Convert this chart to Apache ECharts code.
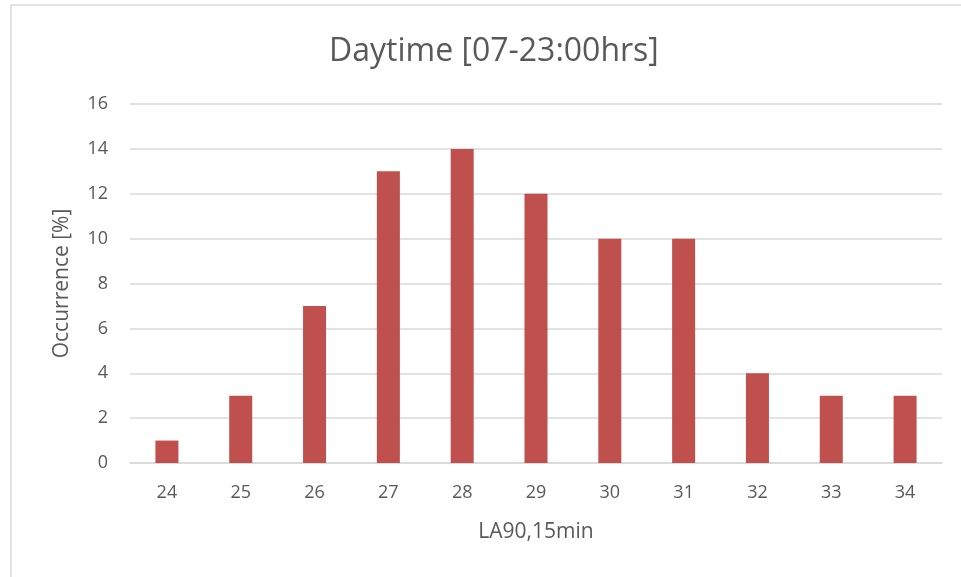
<!DOCTYPE html>
<html><head><meta charset="utf-8">
<script src="https://cdn.jsdelivr.net/npm/echarts@6/dist/echarts.min.js"></script>
<style>html,body{margin:0;padding:0;background:#fff}#c{width:961px;height:577px}</style>
</head><body><div id="c"></div>
<script>
const categories = ['24','25','26','27','28','29','30','31','32','33','34'];
const occurrence = [1,3,7,13,14,12,10,10,4,3,3];
const titleText = 'Daytime [07-23:00hrs]';
const xName = 'LA90,15min';
const yName = 'Occurrence [%]';

const chart = echarts.init(document.getElementById('c'));
const font = 'Open Sans';
chart.setOption({
  animation:false,
  graphic:[{type:'rect',shape:{x:11,y:5,width:1200,height:1000},style:{fill:'none',stroke:'#d9d9d9',lineWidth:1.5},silent:true}],
  title:{text:titleText,left:324,top:31,itemGap:0,textStyle:{fontFamily:font,fontSize:32,fontWeight:'normal',color:'#595959'}},
  grid:{left:130,right:19,top:104,bottom:114},
  xAxis:{type:'category',data:categories,name:xName,nameLocation:'middle',nameGap:59,
    nameTextStyle:{fontFamily:font,fontSize:21,color:'#595959'},
    axisLine:{lineStyle:{color:'#d9d9d9',width:1.5}},axisTick:{show:false},
    axisLabel:{fontFamily:font,fontSize:18,color:'#595959',margin:21}},
  yAxis:{type:'value',min:0,max:16,interval:2,name:yName,nameLocation:'middle',nameGap:57,
    nameTextStyle:{fontFamily:font,fontSize:21,color:'#595959'},
    axisLine:{show:false},axisTick:{show:false},
    splitLine:{lineStyle:{color:'#d9d9d9',width:1.5}},
    axisLabel:{fontFamily:font,fontSize:18,color:'#595959',margin:22}},
  series:[{type:'bar',data:occurrence,barWidth:23,itemStyle:{color:'#c0504d'}}]
});
</script></body></html>
